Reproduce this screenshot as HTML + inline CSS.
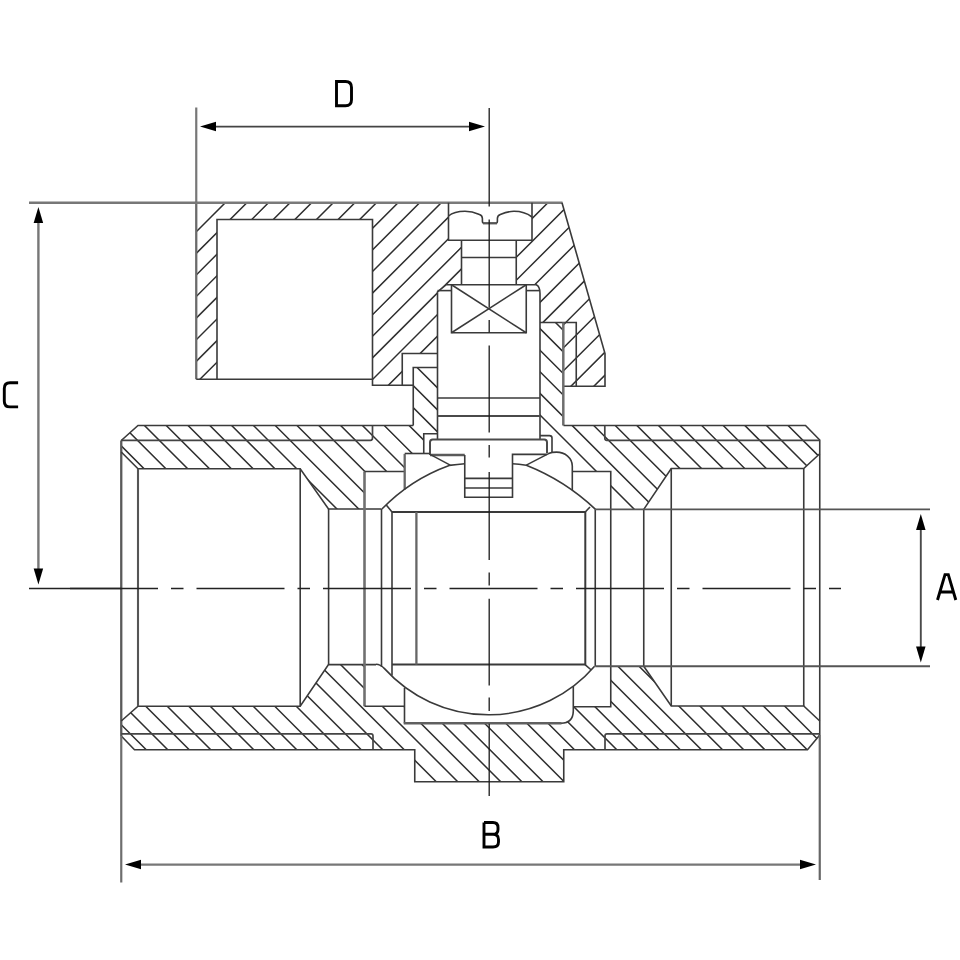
<!DOCTYPE html>
<html><head><meta charset="utf-8"><title>Ball valve</title><style>html,body{margin:0;padding:0;background:#fff;font-family:"Liberation Sans",sans-serif}svg{display:block}</style></head><body><svg width="960" height="960" viewBox="0 0 960 960">
<defs><clipPath id="h1"><path d="M196.25,202.75 L448.50,202.75 L448.50,240.25 L461.50,240.25 L461.50,284.75 L446.25,284.75 L437.50,292.00 L437.50,353.50 L402.25,353.50 L402.25,385.25 L372.50,385.25 L372.50,219.50 L217.00,219.50 L217.00,379.25 L196.25,379.25 Z" clip-rule="evenodd"/></clipPath><clipPath id="h2"><path d="M532.00,202.75 L562.00,202.75 L605.00,353.50 L605.00,386.25 L563.50,386.25 L563.50,322.50 L540.00,322.50 L540.00,293.50 L539.00,288.00 L536.25,284.75 L516.25,284.75 L516.25,240.25 L532.00,240.25 Z" clip-rule="evenodd"/></clipPath><clipPath id="h3"><path d="M121.25,440.50 L138.00,425.50 L413.25,425.50 L413.25,367.50 L437.50,367.50 L437.50,433.75 L423.75,433.75 L423.75,453.75 L405.00,453.75 L405.00,471.50 L364.50,471.50 L364.50,509.00 L328.50,509.00 L300.20,468.75 L138.00,468.75 L121.25,452.00 Z" clip-rule="evenodd"/></clipPath><clipPath id="h4"><path d="M121.25,440.50 L138.00,425.50 L413.25,425.50 L413.25,367.50 L437.50,367.50 L437.50,433.75 L423.75,433.75 L423.75,453.75 L405.00,453.75 L405.00,471.50 L364.50,471.50 L364.50,509.00 L328.50,509.00 L300.20,468.75 L138.00,468.75 L121.25,452.00 Z" clip-rule="evenodd"/></clipPath><clipPath id="h5"><path d="M540,322.5 L563.5,322.5 L563.5,425.5 L805.5,425.5 L819.75,440 L819.75,453.75 L803.75,468.5 L671.25,468.5 L643.75,509.4 L610.75,509.4 L610.75,471.5 L572.3,471.5 L572.3,466 C572.3,458 565,452.1 556.5,452.1 Q554,452.1 552,452.4 L552,438 Q552,435.6 549.5,435.6 L540,435.6 Z" clip-rule="evenodd"/></clipPath><clipPath id="h6"><path d="M121.25,721.00 L138.00,706.25 L300.20,706.25 L328.50,664.60 L364.50,664.60 L364.50,706.25 L404.50,706.25 L404.50,723.25 L560.00,723.25 L567.00,721.50 L572.00,716.00 L573.00,710.00 L573.00,706.50 L610.75,706.50 L610.75,666.25 L643.75,666.25 L671.25,706.00 L803.75,706.00 L819.75,721.00 L819.75,735.00 L807.50,749.75 L563.75,749.75 L563.75,781.75 L414.75,781.75 L414.75,749.75 L134.50,749.75 L121.25,736.00 Z" clip-rule="evenodd"/></clipPath></defs>
<rect width="960" height="960" fill="#fff"/>
<path d="M185.00,178.20 L465.00,-101.80 M185.00,199.80 L465.00,-80.20 M185.00,243.00 L465.00,-37.00 M185.00,264.60 L465.00,-15.40 M185.00,286.20 L465.00,6.20 M185.00,307.80 L465.00,27.80 M185.00,329.40 L465.00,49.40 M185.00,351.00 L465.00,71.00 M185.00,372.60 L465.00,92.60 M185.00,394.20 L465.00,114.20 M185.00,415.80 L465.00,135.80 M185.00,437.40 L465.00,157.40 M185.00,459.00 L465.00,179.00 M185.00,480.60 L465.00,200.60 M185.00,502.20 L465.00,222.20 M185.00,523.80 L465.00,243.80 M185.00,545.40 L465.00,265.40 M185.00,567.00 L465.00,287.00 M185.00,588.60 L465.00,308.60 M185.00,610.20 L465.00,330.20 M185.00,631.80 L465.00,351.80 M185.00,653.40 L465.00,373.40 M185.00,675.00 L465.00,395.00 M185.00,696.60 L465.00,416.60" stroke="#2e2e2e" stroke-width="1.5" fill="none" clip-path="url(#h1)"/>
<path d="M505.00,176.75 L615.00,66.75 M505.00,199.70 L615.00,89.70 M505.00,222.65 L615.00,112.65 M505.00,245.60 L615.00,135.60 M505.00,268.55 L615.00,158.55 M505.00,291.50 L615.00,181.50 M505.00,314.45 L615.00,204.45 M505.00,337.40 L615.00,227.40 M505.00,360.35 L615.00,250.35 M505.00,383.30 L615.00,273.30 M505.00,406.25 L615.00,296.25 M505.00,429.20 L615.00,319.20 M505.00,452.15 L615.00,342.15 M505.00,475.10 L615.00,365.10 M505.00,498.05 L615.00,388.05 M505.00,521.00 L615.00,411.00 M505.00,543.95 L615.00,433.95" stroke="#2e2e2e" stroke-width="1.5" fill="none" clip-path="url(#h2)"/>
<path d="M110.00,151.25 L445.00,486.25 M110.00,173.05 L445.00,508.05 M110.00,194.85 L445.00,529.85 M110.00,216.65 L445.00,551.65 M110.00,238.45 L445.00,573.45 M110.00,260.25 L445.00,595.25 M110.00,282.05 L445.00,617.05 M110.00,303.85 L445.00,638.85 M110.00,325.65 L445.00,660.65 M110.00,347.45 L445.00,682.45 M110.00,369.25 L445.00,704.25 M110.00,391.05 L445.00,726.05 M110.00,412.85 L445.00,747.85 M110.00,434.65 L445.00,769.65 M110.00,456.45 L445.00,791.45 M110.00,478.25 L445.00,813.25" stroke="#2e2e2e" stroke-width="1.5" fill="none" clip-path="url(#h3)"/>
<path d="M110.00,60.40 L445.00,395.40 M110.00,82.40 L445.00,417.40 M110.00,104.40 L445.00,439.40 M110.00,126.40 L445.00,461.40" stroke="#2e2e2e" stroke-width="1.5" fill="none" clip-path="url(#h4)"/>
<path d="M530.00,405.00 L830.00,705.00 M530.00,383.40 L830.00,683.40 M530.00,361.80 L830.00,661.80 M530.00,340.20 L830.00,640.20 M530.00,318.60 L830.00,618.60 M530.00,297.00 L830.00,597.00 M530.00,275.40 L830.00,575.40 M530.00,253.80 L830.00,553.80 M530.00,232.20 L830.00,532.20 M530.00,210.60 L830.00,510.60 M530.00,189.00 L830.00,489.00 M530.00,167.40 L830.00,467.40 M530.00,145.80 L830.00,445.80 M530.00,124.20 L830.00,424.20" stroke="#2e2e2e" stroke-width="1.5" fill="none" clip-path="url(#h5)"/>
<path d="M110.00,-74.30 L830.00,645.70 M110.00,-53.15 L830.00,666.85 M110.00,-32.00 L830.00,688.00 M110.00,-10.85 L830.00,709.15 M110.00,10.30 L830.00,730.30 M110.00,31.45 L830.00,751.45 M110.00,52.60 L830.00,772.60 M110.00,73.75 L830.00,793.75 M110.00,94.90 L830.00,814.90 M110.00,116.05 L830.00,836.05 M110.00,137.20 L830.00,857.20 M110.00,158.35 L830.00,878.35 M110.00,179.50 L830.00,899.50 M110.00,200.65 L830.00,920.65 M110.00,221.80 L830.00,941.80 M110.00,242.95 L830.00,962.95 M110.00,264.10 L830.00,984.10 M110.00,285.25 L830.00,1005.25 M110.00,306.40 L830.00,1026.40 M110.00,327.55 L830.00,1047.55 M110.00,348.70 L830.00,1068.70 M110.00,369.85 L830.00,1089.85 M110.00,391.00 L830.00,1111.00 M110.00,412.50 L830.00,1132.50 M110.00,434.00 L830.00,1154.00 M110.00,455.50 L830.00,1175.50 M110.00,477.00 L830.00,1197.00 M110.00,498.50 L830.00,1218.50 M110.00,520.00 L830.00,1240.00 M110.00,541.50 L830.00,1261.50 M110.00,563.00 L830.00,1283.00 M110.00,584.50 L830.00,1304.50 M110.00,606.00 L830.00,1326.00 M110.00,627.50 L830.00,1347.50 M110.00,649.00 L830.00,1369.00 M110.00,670.50 L830.00,1390.50 M110.00,692.00 L830.00,1412.00 M110.00,713.50 L830.00,1433.50 M110.00,735.00 L830.00,1455.00 M110.00,756.50 L830.00,1476.50 M110.00,778.00 L830.00,1498.00 M110.00,799.50 L830.00,1519.50 M110.00,821.00 L830.00,1541.00" stroke="#2e2e2e" stroke-width="1.5" fill="none" clip-path="url(#h6)"/>
<path d="M196.25,379.25 L196.25,202.75" stroke="#6a6a6a" stroke-width="2.3" fill="none" />
<path d="M195.20,202.75 L562.50,202.75" stroke="#7a7a7a" stroke-width="2.5" fill="none" />
<path d="M562.00,202.75 L605.00,353.50 L605.00,386.25 L563.50,386.25" stroke="#3a3a3a" stroke-width="1.6" fill="none" />
<path d="M196.25,379.25 L372.50,379.25" stroke="#3a3a3a" stroke-width="1.6" fill="none" />
<path d="M217.00,379.25 L217.00,219.50 L372.50,219.50 L372.50,385.25 L402.25,385.25 L402.25,353.50 L437.50,353.50" stroke="#3a3a3a" stroke-width="1.6" fill="none" />
<line x1="402.25" y1="385.25" x2="413.3" y2="385.25" stroke="#3a3a3a" stroke-width="1.6" />
<path d="M448.50,202.75 L448.50,240.25 L532.00,240.25 L532.00,202.75" stroke="#3a3a3a" stroke-width="1.6" fill="none" />
<path d="M448.5,216 C452,213 458,211.2 465,211.2 C471,211.2 476,213 479.5,214.6 Q482.4,215.8 482.4,218.5 L482.4,221.2 Q482.4,223.2 484.4,223.2 L495.4,223.2 Q497.4,223.2 497.4,221.2 L497.4,218.5 Q497.4,215.8 500.3,214.6 C504,213 509,211.3 514,211.3 C521,211.3 528,214 532,217" stroke="#3a3a3a" stroke-width="1.6" fill="none" />
<line x1="483" y1="223.3" x2="497" y2="223.3" stroke="#555" stroke-width="2.2" />
<path d="M461.50,240.25 L461.50,284.75" stroke="#3a3a3a" stroke-width="1.6" fill="none" />
<path d="M516.25,240.25 L516.25,284.75" stroke="#3a3a3a" stroke-width="1.6" fill="none" />
<line x1="461.5" y1="257.5" x2="516.25" y2="257.5" stroke="#3a3a3a" stroke-width="1.6" />
<path d="M437.5,439.4 L437.5,292 L446.25,284.75 L536.25,284.75 Q540,286.5 540,293.5 L540,439.4" stroke="#3a3a3a" stroke-width="1.6" fill="none" />
<line x1="437.5" y1="290.6" x2="451.5" y2="290.6" stroke="#3a3a3a" stroke-width="1.6" />
<line x1="526.25" y1="290.6" x2="540" y2="290.6" stroke="#3a3a3a" stroke-width="1.6" />
<path d="M451.50,284.75 L451.50,332.75 L526.25,332.75 L526.25,284.75" stroke="#3a3a3a" stroke-width="1.6" fill="none" />
<line x1="451.5" y1="284.75" x2="526.25" y2="332.75" stroke="#3a3a3a" stroke-width="1.5" />
<line x1="526.25" y1="284.75" x2="451.5" y2="332.75" stroke="#3a3a3a" stroke-width="1.5" />
<line x1="437.5" y1="398" x2="540" y2="398" stroke="#3a3a3a" stroke-width="1.6" />
<line x1="437.5" y1="416" x2="540" y2="416" stroke="#4a4a4a" stroke-width="2.0" />
<path d="M413.25,425.50 L413.25,367.50 L437.50,367.50" stroke="#3a3a3a" stroke-width="1.6" fill="none" />
<path d="M540.00,322.50 L576.25,322.50 L576.25,386.25" stroke="#3a3a3a" stroke-width="1.6" fill="none" />
<path d="M563.30,322.50 L563.30,425.50" stroke="#6e6e6e" stroke-width="2.5" fill="none" />
<path d="M437.50,433.75 L423.75,433.75 L423.75,453.75" stroke="#3a3a3a" stroke-width="1.6" fill="none" />
<path d="M540,435.6 L549.5,435.6 Q552,435.6 552,438 L552,452.3" stroke="#3a3a3a" stroke-width="1.6" fill="none" />
<path d="M430,455 L430,442.2 Q430,439.4 432.8,439.4 L544.2,439.4 Q547,439.4 547,442.2 L547,453" stroke="#4a4a4a" stroke-width="2.0" fill="none" />
<path d="M404.70,453.50 L430.00,453.50" stroke="#3a3a3a" stroke-width="1.6" fill="none" />
<path d="M430.00,455.00 L464.75,455.00" stroke="#5a5a5a" stroke-width="2.3" fill="none" />
<path d="M464.75,455.00 L464.75,497.20 L512.50,497.20 L512.50,454.40 L547.00,454.40" stroke="#3a3a3a" stroke-width="1.6" fill="none" />
<line x1="464.75" y1="478.4" x2="512.5" y2="478.4" stroke="#3a3a3a" stroke-width="1.6" />
<line x1="464.75" y1="488" x2="512.5" y2="488" stroke="#3a3a3a" stroke-width="1.6" />
<line x1="430" y1="454.4" x2="450.2" y2="465.1" stroke="#3a3a3a" stroke-width="1.5" />
<line x1="526.3" y1="465.1" x2="549" y2="453.3" stroke="#3a3a3a" stroke-width="1.5" />
<path d="M121.25,736.00 L121.25,440.50" stroke="#5a5a5a" stroke-width="2.3" fill="none" />
<path d="M121.25,440.50 L138.00,425.50 L413.25,425.50" stroke="#3a3a3a" stroke-width="1.6" fill="none" />
<path d="M563.50,425.50 L805.50,425.50 L819.75,440.00 L819.75,735.00" stroke="#3a3a3a" stroke-width="1.6" fill="none" />
<path d="M121.25,440.3 L370.5,440.3 Q372.5,440.3 372.5,438 L372.5,425.5" stroke="#444" stroke-width="1.7" fill="none" />
<path d="M819.75,440.3 L606.8,440.3 Q604.8,440.3 604.8,438 L604.8,425.5" stroke="#444" stroke-width="1.7" fill="none" />
<path d="M121.25,733.9 L371,733.9 Q373,733.9 373,736 L373,749.75" stroke="#444" stroke-width="1.7" fill="none" />
<path d="M819.75,733.9 L607,733.9 Q605,733.9 605,736 L605,749.75" stroke="#444" stroke-width="1.7" fill="none" />
<path d="M121.25,736.00 L134.50,749.75 L414.75,749.75 L414.75,781.75 L563.75,781.75 L563.75,749.75 L807.50,749.75 L819.75,735.00" stroke="#3a3a3a" stroke-width="1.6" fill="none" />
<path d="M121.25,452.00 L138.00,468.75 L300.20,468.75 L328.50,509.00 L381.50,509.00" stroke="#3a3a3a" stroke-width="1.6" fill="none" />
<path d="M121.25,721.00 L138.00,706.25 L300.20,706.25 L328.50,664.60 L376.00,664.60" stroke="#3a3a3a" stroke-width="1.6" fill="none" />
<line x1="138" y1="468.75" x2="138" y2="706.25" stroke="#555" stroke-width="2.1" />
<line x1="300.2" y1="468.75" x2="300.2" y2="706.25" stroke="#3a3a3a" stroke-width="1.6" />
<line x1="328.6" y1="509" x2="328.6" y2="664.6" stroke="#3a3a3a" stroke-width="1.6" />
<path d="M819.75,453.75 L803.75,468.50 L671.25,468.50 L643.75,509.40" stroke="#3a3a3a" stroke-width="1.6" fill="none" />
<path d="M819.75,721.00 L803.75,706.00 L671.25,706.00 L643.75,666.25" stroke="#3a3a3a" stroke-width="1.6" fill="none" />
<line x1="803.75" y1="468.5" x2="803.75" y2="706" stroke="#3a3a3a" stroke-width="1.6" />
<line x1="671.25" y1="468.5" x2="671.25" y2="706" stroke="#3a3a3a" stroke-width="1.6" />
<line x1="643.75" y1="509.4" x2="643.75" y2="666.25" stroke="#3a3a3a" stroke-width="1.6" />
<path d="M364.50,706.25 L364.50,471.50" stroke="#707070" stroke-width="2.6" fill="none" />
<path d="M364.50,471.50 L405.00,471.50" stroke="#3a3a3a" stroke-width="1.6" fill="none" />
<path d="M364.50,706.25 L404.50,706.25" stroke="#3a3a3a" stroke-width="1.6" fill="none" />
<path d="M572.30,471.50 L610.75,471.50 L610.75,706.80 L573.30,706.80" stroke="#3a3a3a" stroke-width="1.6" fill="none" />
<line x1="381.5" y1="509" x2="381.5" y2="666.9" stroke="#3a3a3a" stroke-width="1.6" />
<line x1="595.25" y1="509.4" x2="595.25" y2="666.25" stroke="#3a3a3a" stroke-width="1.6" />
<path d="M404.70,453.90 L404.70,489.60" stroke="#666" stroke-width="2.3" fill="none" />
<path d="M548.5,453.5 Q552,452.1 556.5,452.1 C565,452.1 572.3,458 572.3,466 L572.3,490" stroke="#3a3a3a" stroke-width="1.6" fill="none" />
<path d="M404.5,688 L404.5,723.25 M561,723.25 Q573,723.25 573.3,711 L573.3,686" stroke="#3a3a3a" stroke-width="1.6" fill="none" />
<line x1="403.7" y1="723.25" x2="561.5" y2="723.25" stroke="#606060" stroke-width="2.3" />
<path d="M392.00,511.90 L392.00,675.60" stroke="#3a3a3a" stroke-width="1.6" fill="none" />
<path d="M392.00,512.00 L585.30,512.00 L585.30,664.60 L392.00,664.60" stroke="#3a3a3a" stroke-width="2.0" fill="none" />
<line x1="416.4" y1="512" x2="416.4" y2="664.6" stroke="#666" stroke-width="2.3" />
<line x1="386.25" y1="504.9" x2="392" y2="512" stroke="#3a3a3a" stroke-width="1.6" />
<line x1="590" y1="507" x2="585" y2="512.2" stroke="#3a3a3a" stroke-width="1.6" />
<line x1="585" y1="664.6" x2="591.25" y2="670" stroke="#3a3a3a" stroke-width="1.6" />
<path d="M381.9,509 A177.5,177.5 0 0 1 449.2,465.4 L457.5,464.5 L464.75,463.75" stroke="#3a3a3a" stroke-width="1.6" fill="none" />
<path d="M512.4,463.75 L519,464.3 L526.3,465.2 A216,216 0 0 1 595.5,509.3" stroke="#3a3a3a" stroke-width="1.6" fill="none" />
<path d="M376,664.3 Q380.5,664.5 384.5,668.6 A140.2,140.2 0 0 0 594.6,666.3" stroke="#3a3a3a" stroke-width="1.6" fill="none" />
<line x1="595.25" y1="509.4" x2="930" y2="509.4" stroke="#555" stroke-width="1.9" />
<line x1="595.25" y1="666.25" x2="930" y2="666.25" stroke="#555" stroke-width="1.9" />
<line x1="489.2" y1="219.4" x2="489.2" y2="307.5" stroke="#1a1a1a" stroke-width="1.3" />
<line x1="489.2" y1="320" x2="489.2" y2="332.5" stroke="#1a1a1a" stroke-width="1.3" />
<line x1="489.2" y1="345.5" x2="489.2" y2="432.5" stroke="#1a1a1a" stroke-width="1.3" />
<line x1="489.2" y1="445" x2="489.2" y2="457.5" stroke="#1a1a1a" stroke-width="1.3" />
<line x1="489.2" y1="472" x2="489.2" y2="560" stroke="#1a1a1a" stroke-width="1.3" />
<line x1="489.2" y1="572.5" x2="489.2" y2="585.5" stroke="#1a1a1a" stroke-width="1.3" />
<line x1="489.2" y1="598.75" x2="489.2" y2="685.5" stroke="#1a1a1a" stroke-width="1.3" />
<line x1="489.2" y1="697.5" x2="489.2" y2="711" stroke="#1a1a1a" stroke-width="1.3" />
<line x1="489.2" y1="723.75" x2="489.2" y2="796" stroke="#1a1a1a" stroke-width="1.3" />
<line x1="70" y1="588.5" x2="841" y2="588.5" stroke="#222" stroke-width="1.3" stroke-dasharray="88 13 12.5 13"/>
<line x1="196.25" y1="107.5" x2="196.25" y2="202.75" stroke="#777" stroke-width="2.2" />
<line x1="489.2" y1="108" x2="489.2" y2="206.6" stroke="#1a1a1a" stroke-width="1.3" />
<line x1="214" y1="126.6" x2="471" y2="126.6" stroke="#444" stroke-width="1.9" />
<polygon points="200,126.6 216.0,121.85 216.0,131.35" fill="#000"/>
<polygon points="485,126.6 469.0,131.35 469.0,121.85" fill="#000"/>
<line x1="29" y1="202.75" x2="196.25" y2="202.75" stroke="#777" stroke-width="2.4" />
<line x1="29" y1="588.5" x2="121.25" y2="588.5" stroke="#222" stroke-width="1.3" />
<line x1="38.4" y1="221" x2="38.4" y2="571" stroke="#777" stroke-width="2.4" />
<polygon points="38.4,207 43.15,223.0 33.65,223.0" fill="#000"/>
<polygon points="38.4,584.5 33.65,568.5 43.15,568.5" fill="#000"/>
<line x1="121.25" y1="736" x2="121.25" y2="882.5" stroke="#6e6e6e" stroke-width="2.2" />
<line x1="819.75" y1="735" x2="819.75" y2="880" stroke="#666" stroke-width="2.2" />
<line x1="139" y1="864.6" x2="802" y2="864.6" stroke="#777" stroke-width="2.3" />
<polygon points="125,864.6 141.0,859.85 141.0,869.35" fill="#000"/>
<polygon points="816,864.6 800.0,869.35 800.0,859.85" fill="#000"/>
<line x1="920.8" y1="528" x2="920.8" y2="649" stroke="#4a4a4a" stroke-width="1.9" />
<polygon points="920.8,514 925.55,530.0 916.05,530.0" fill="#000"/>
<polygon points="920.8,662.5 916.05,646.5 925.55,646.5" fill="#000"/>
<path d="M18.1,382.8 L10,382.8 Q4.3,382.8 4.3,388.5 L4.3,401.2 Q4.3,406.9 10,406.9 L18.1,406.9" stroke="#000" stroke-width="2.9" fill="none" stroke-linejoin="miter" stroke-linecap="butt"/>
<path d="M336.5,81.5 L345.5,81.5 Q351.5,81.5 351.5,87.5 L351.5,99.7 Q351.5,105.7 345.5,105.7 L336.5,105.7 Z" stroke="#000" stroke-width="2.9" fill="none" stroke-linejoin="miter" stroke-linecap="butt"/>
<path d="M484,822.5 L493,822.5 Q498,822.5 498,827.5 L498,829.5 Q498,834.3 493,834.3 L484,834.3 M493,834.3 Q498.5,834.3 498.5,839.5 L498.5,842 Q498.5,847 493,847 L484,847 L484,822.5" stroke="#000" stroke-width="2.9" fill="none" stroke-linejoin="miter" stroke-linecap="butt"/>
<path d="M937.5,600 L945,574.6 L948.3,574.6 L955.8,600 M940.3,592 L953,592" stroke="#000" stroke-width="2.9" fill="none" stroke-linejoin="miter" stroke-linecap="butt"/>
</svg></body></html>
